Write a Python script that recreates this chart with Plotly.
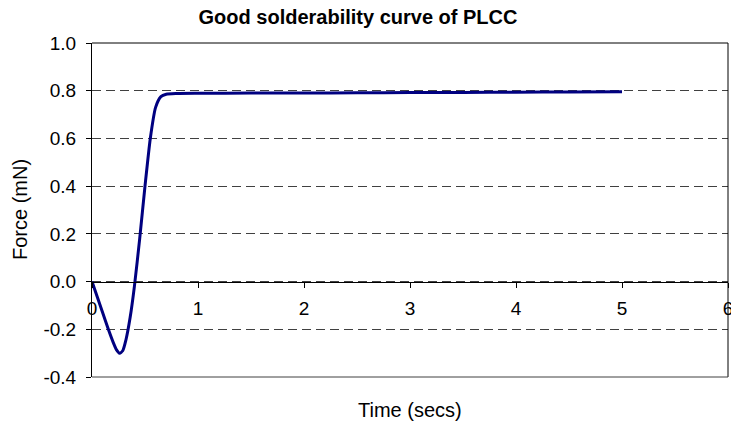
import plotly.graph_objects as go

time_secs = [0, 0.05, 0.10, 0.15, 0.20, 0.23, 0.26, 0.29, 0.32, 0.36, 0.40, 0.45, 0.50, 0.55, 0.60,
             0.65, 0.70, 0.80, 1.0, 1.5, 2.0, 2.5, 3.0, 3.5, 4.0, 4.5, 5.0]
force_mn = [0, -0.065, -0.13, -0.195, -0.255, -0.285, -0.300, -0.290, -0.245, -0.15, -0.02, 0.18,
            0.40, 0.60, 0.73, 0.775, 0.785, 0.788, 0.789, 0.790, 0.790, 0.791, 0.792, 0.793,
            0.794, 0.795, 0.796]
x_ticks = [0, 1, 2, 3, 4, 5, 6]
y_ticks = [-0.4, -0.2, 0.0, 0.2, 0.4, 0.6, 0.8, 1.0]
y_tick_labels = ["-0.4", "-0.2", "0.0", "0.2", "0.4", "0.6", "0.8", "1.0"]

FONT = "Liberation Sans, Arial, sans-serif"
ymin, ymax = -0.4, 1.0

fig = go.Figure()
fig.add_trace(go.Scatter(
    x=time_secs, y=force_mn, mode="lines",
    line=dict(color="#000080", width=3, shape="spline", smoothing=0.6),
    showlegend=False, hoverinfo="x+y",
))

fig.update_layout(
    width=731, height=427,
    margin=dict(l=92, r=3, t=43, b=50, autoexpand=False),
    paper_bgcolor="white", plot_bgcolor="white",
    font=dict(family=FONT, color="black", size=19),
    title=dict(text="<b>Good solderability curve of PLCC</b>",
               font=dict(family=FONT, size=20, color="black"),
               x=358 / 731, xanchor="center", xref="container",
               y=1 - 17 / 427, yanchor="middle", yref="container",
               automargin=False),
    xaxis=dict(range=[0, 6], tickvals=x_ticks, ticktext=[str(v) for v in x_ticks],
               anchor="free", position=(0 - ymin) / (ymax - ymin),
               showline=True, linecolor="black", linewidth=1,
               ticks="outside", ticklen=5, tickcolor="black",
               ticklabelstandoff=5, automargin=False, ticklabeloverflow="allow",
               showgrid=False, zeroline=False,
               tickfont=dict(size=19)),
    yaxis=dict(range=[ymin, ymax], tickvals=y_ticks, ticktext=y_tick_labels,
               showline=True, linecolor="black", linewidth=1,
               ticks="outside", ticklen=5, tickcolor="black",
               ticklabelstandoff=6, automargin=False,
               showgrid=True, gridcolor="#404040", gridwidth=1, griddash="9px,5px",
               zeroline=False, tickfont=dict(size=19)),
)

# Plot-area border (top, right, bottom)
fig.add_shape(type="line", xref="paper", yref="paper", x0=0, x1=1, y0=1, y1=1,
              line=dict(color="black", width=1))
fig.add_shape(type="line", xref="paper", yref="paper", x0=1, x1=1, y0=0, y1=1,
              line=dict(color="black", width=1))
fig.add_shape(type="line", xref="paper", yref="paper", x0=0, x1=1, y0=0, y1=0,
              line=dict(color="#404040", width=1))

# Axis titles
fig.add_annotation(text="Time (secs)", xref="paper", yref="paper", x=0.5, y=0,
                   yshift=-33, showarrow=False, xanchor="center", yanchor="middle",
                   font=dict(family=FONT, size=20, color="black"))
fig.add_annotation(text="Force (mN)", xref="paper", yref="paper", x=0, y=0.5,
                   xshift=-72, showarrow=False, xanchor="center", yanchor="middle",
                   textangle=-90, font=dict(family=FONT, size=20, color="black"))

fig.write_html("out.html", config={"displayModeBar": False},
               post_script="document.body.style.margin='0';document.body.style.padding='0';")
